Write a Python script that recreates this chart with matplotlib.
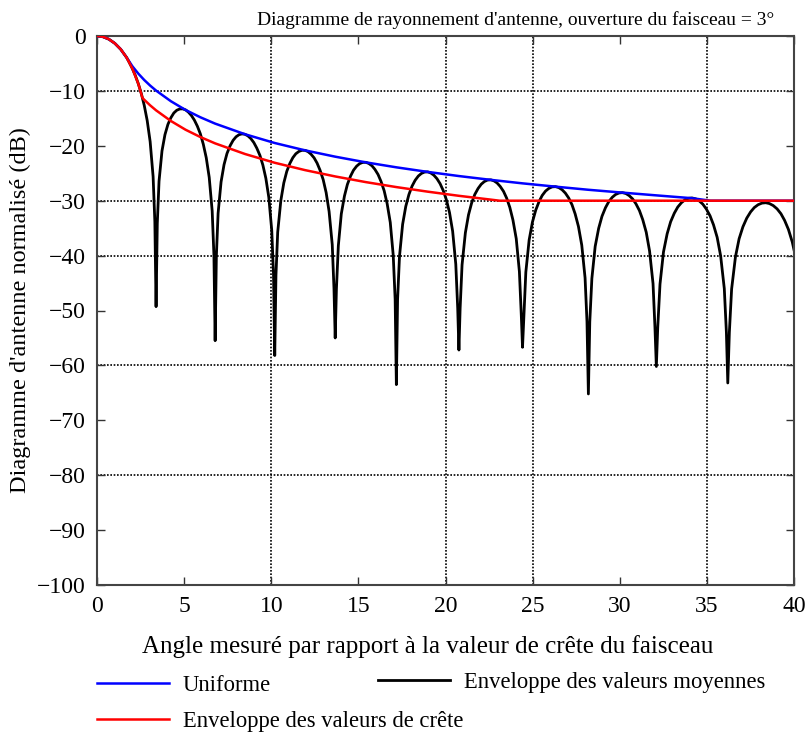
import matplotlib
matplotlib.use("Agg")
import matplotlib.pyplot as plt

plt.rcParams['font.family'] = ['Liberation Serif', 'DejaVu Serif']

# diagramme (courbe noire), un lobe par ligne
angle_diag = [
    0.0, 0.34, 0.68, 1.02, 1.36, 1.70, 1.86, 2.03, 2.20, 2.37, 2.54, 2.71, 2.88, 3.05, 3.22, 3.32,
    3.39, 3.46, 3.56, 3.73, 3.90, 4.07, 4.24, 4.41, 4.58, 4.75, 4.92, 5.09, 5.25, 5.42, 5.59, 5.76, 5.93, 6.10, 6.27, 6.44, 6.61, 6.71,
    6.78, 6.85, 6.95, 7.12, 7.29, 7.46, 7.64, 7.81, 7.98, 8.15, 8.32, 8.49, 8.66, 8.83, 9.00, 9.17, 9.35, 9.52, 9.69, 9.86, 10.03, 10.13,
    10.2, 10.27, 10.37, 10.55, 10.72, 10.89, 11.07, 11.24, 11.41, 11.59, 11.76, 11.94, 12.11, 12.28, 12.46, 12.63, 12.80, 12.98, 13.15, 13.32, 13.50, 13.60,
    13.67, 13.74, 13.85, 14.02, 14.20, 14.37, 14.55, 14.72, 14.90, 15.07, 15.25, 15.43, 15.60, 15.78, 15.95, 16.13, 16.30, 16.48, 16.65, 16.83, 17.00, 17.11,
    17.18, 17.25, 17.36, 17.54, 17.72, 17.90, 18.08, 18.26, 18.44, 18.62, 18.80, 18.98, 19.15, 19.33, 19.51, 19.69, 19.87, 20.05, 20.23, 20.41, 20.59, 20.70,
    20.77, 20.84, 20.95, 21.14, 21.32, 21.50, 21.68, 21.87, 22.05, 22.23, 22.41, 22.60, 22.78, 22.96, 23.14, 23.33, 23.51, 23.69, 23.87, 24.06, 24.24, 24.35,
    24.42, 24.50, 24.61, 24.80, 24.99, 25.18, 25.37, 25.55, 25.74, 25.93, 26.12, 26.31, 26.50, 26.69, 26.88, 27.07, 27.26, 27.44, 27.63, 27.82, 28.01, 28.12,
    28.2, 28.28, 28.40, 28.59, 28.79, 28.98, 29.18, 29.37, 29.57, 29.76, 29.96, 30.15, 30.35, 30.54, 30.74, 30.93, 31.13, 31.32, 31.52, 31.71, 31.91, 32.02,
    32.1, 32.18, 32.31, 32.51, 32.72, 32.92, 33.13, 33.33, 33.54, 33.74, 33.95, 34.15, 34.36, 34.56, 34.77, 34.97, 35.18, 35.38, 35.59, 35.79, 36.00, 36.12,
    36.2, 36.29, 36.42, 36.64, 36.85, 37.07, 37.29, 37.51, 37.72, 37.94, 38.16, 38.38, 38.59, 38.81, 39.03, 39.25, 39.46, 39.68, 39.90, 40.0]
gain_diag = [
    0.0, -0.14, -0.58, -1.33, -2.42, -3.92, -4.86, -5.94, -7.20, -8.69, -10.45, -12.62, -15.39, -19.23, -25.61, -33.81,
    -49.3, -34.14, -26.45, -20.93, -17.97, -16.10, -14.89, -14.02, -13.52, -13.29, -13.27, -13.47, -13.88, -14.49, -15.33, -16.43, -17.81, -19.71, -22.18, -25.75, -31.87, -39.92,
    -55.5, -40.08, -32.28, -26.58, -23.44, -21.40, -19.98, -19.01, -18.36, -17.98, -17.83, -17.90, -18.19, -18.69, -19.41, -20.42, -21.75, -23.52, -25.91, -29.40, -35.46, -43.47,
    -58.2, -43.59, -35.74, -29.97, -26.77, -24.67, -23.19, -22.16, -21.45, -21.02, -20.82, -20.83, -21.06, -21.52, -22.20, -23.15, -24.44, -26.16, -28.52, -31.97, -37.98, -45.98,
    -55.0, -46.06, -38.20, -32.40, -29.16, -27.03, -25.52, -24.45, -23.71, -23.25, -23.02, -23.01, -23.22, -23.64, -24.30, -25.23, -26.49, -28.19, -30.52, -33.95, -39.94, -47.93,
    -63.5, -48.00, -40.12, -34.29, -31.04, -28.88, -27.35, -26.27, -25.51, -25.03, -24.78, -24.75, -24.94, -25.35, -25.99, -26.90, -28.15, -29.83, -32.15, -35.56, -41.55, -49.52,
    -57.2, -49.58, -41.69, -35.85, -32.58, -30.41, -28.87, -27.77, -27.00, -26.51, -26.24, -26.20, -26.38, -26.77, -27.40, -28.30, -29.54, -31.21, -33.51, -36.92, -42.89, -50.86,
    -56.7, -50.90, -43.01, -37.16, -33.88, -31.70, -30.15, -29.04, -28.25, -27.76, -27.48, -27.44, -27.61, -28.00, -28.62, -29.51, -30.74, -32.40, -34.70, -38.10, -44.06, -52.03,
    -65.2, -52.07, -44.17, -38.32, -35.03, -32.84, -31.28, -30.17, -29.38, -28.87, -28.59, -28.53, -28.69, -29.07, -29.68, -30.57, -31.80, -33.46, -35.75, -39.14, -45.10, -53.05,
    -60.2, -53.09, -45.19, -39.33, -36.03, -33.84, -32.28, -31.15, -30.36, -29.85, -29.56, -29.50, -29.67, -30.03, -30.64, -31.52, -32.74, -34.39, -36.67, -40.05, -46.01, -53.96,
    -63.2, -54.00, -46.09, -40.23, -36.93, -34.74, -33.17, -32.04, -31.25, -30.73, -30.44, -30.37, -30.52, -30.89, -31.49, -32.37, -33.58, -35.23, -37.51, -38.95]

# enveloppe uniforme (bleu)
angle_unif = [0.0, 0.34, 0.68, 1.02, 1.36, 1.70, 2.03, 2.37, 2.71, 3.05, 3.39, 4.24, 5.08, 5.93,
              6.78, 8.50, 10.2, 11.94, 13.67, 15.42, 17.18, 18.97, 20.77, 22.59, 24.42, 26.31,
              28.2, 30.16, 32.1, 34.16, 35.2, 40.0]
gain_unif = [0.0, -0.14, -0.58, -1.33, -2.42, -3.92, -5.51, -6.85, -8.01, -9.03, -9.94, -11.88,
             -13.47, -14.80, -15.96, -17.90, -19.49, -20.83, -21.98, -23.01, -23.92, -24.75, -25.51,
             -26.20, -26.84, -27.44, -28.01, -28.53, -29.03, -29.55, -30.0, -30.0]

# enveloppe des valeurs de crete (rouge)
angle_crete = [0.0, 0.34, 0.68, 1.02, 1.36, 1.70, 2.03, 2.37, 2.61, 2.71, 3.05, 3.39, 4.24, 5.08,
               5.93, 6.78, 8.50, 10.2, 11.94, 13.67, 15.42, 17.18, 18.97, 20.77, 22.59, 23.1, 40.0]
gain_crete = [0.0, -0.14, -0.58, -1.33, -2.42, -3.92, -5.94, -8.69, -11.28, -11.61, -12.63, -13.54,
              -15.48, -17.07, -18.40, -19.56, -21.50, -23.09, -24.43, -25.58, -26.61, -27.52, -28.35,
              -29.11, -29.80, -30.0, -30.0]

grid_x = [10, 20, 25, 35]
grid_y = [-10, -30, -40, -60, -80]

fig = plt.figure(figsize=(8.1, 7.33), dpi=100)
ax = fig.add_axes([97/810, 1-585/733, (794-97)/810, (585-36)/733])

for gx in grid_x:
    ax.axvline(gx, color='black', lw=1.2, ls=(0, (1, 1)), zorder=1)
for gy in grid_y:
    ax.axhline(gy, color='black', lw=1.2, ls=(0, (1, 1)), zorder=1)

l_unif, = ax.plot(angle_unif, gain_unif, color='#0000ff', lw=1.8, zorder=3)
l_crete, = ax.plot(angle_crete, gain_crete, color='#ff0000', lw=1.8, zorder=4)
l_diag, = ax.plot(angle_diag, gain_diag, color='black', lw=2.0, zorder=2)

ax.set_xlim(0, 40)
ax.set_ylim(-100, 0)
ax.set_xticks(range(0, 41, 5))
ax.set_yticks(range(-100, 1, 10))
ax.tick_params(direction='in', length=6, width=1, top=True, right=True,
               labelsize=17, pad=8, colors='#333333', labelcolor='black')
for sp in ax.spines.values():
    sp.set_color('#444444')
    sp.set_linewidth(1.5)

ax.set_title("Diagramme de rayonnement d'antenne, ouverture du faisceau = 3°",
             fontsize=14, x=(516-97)/697, pad=8)
ax.set_xlabel("Angle mesuré par rapport à la valeur de crête du faisceau", fontsize=18, labelpad=12)
ax.xaxis.set_label_coords((428-97)/697, -0.092)
ax.set_ylabel("Diagramme d'antenne normalisé (dB)", fontsize=17.5)
ax.yaxis.set_label_coords(-0.095, 0.5)

leg1 = fig.legend([l_unif, l_crete], ["Uniforme", "Enveloppe des valeurs de crête"],
                  loc='upper left', bbox_to_anchor=(97/810, 1-675/733), frameon=False,
                  fontsize=16.3, handlelength=3.2, handletextpad=0.6, borderpad=0,
                  borderaxespad=0, labelspacing=0.65)
leg2 = fig.legend([l_diag], ["Enveloppe des valeurs moyennes"],
                  loc='upper left', bbox_to_anchor=(378/810, 1-672/733), frameon=False,
                  fontsize=16.3, handlelength=3.2, handletextpad=0.6, borderpad=0,
                  borderaxespad=0)

fig.savefig("out.png", dpi=100)
